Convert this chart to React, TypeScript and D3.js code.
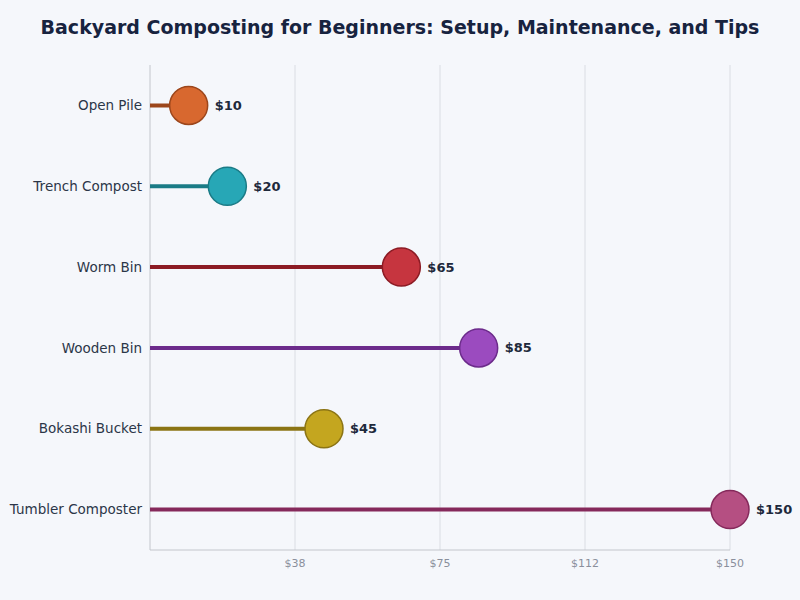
import React from "react";
import * as d3 from "d3";

// Setup cost per composting method (USD)
const methods = [
  "Open Pile",
  "Trench Compost",
  "Worm Bin",
  "Wooden Bin",
  "Bokashi Bucket",
  "Tumbler Composter",
];
const costs = [10, 20, 65, 85, 45, 150];
const fills = ["#d8682f", "#27a7b6", "#c6353f", "#9b4bbf", "#c4a61f", "#b54f82"];
const strokes = ["#9c461b", "#1a7b86", "#8c1b24", "#6c2b8b", "#8b7414", "#85295b"];
const tickValues = [37.5, 75, 112.5, 150];
const tickLabels = ["$38", "$75", "$112", "$150"];

const W = 800;
const H = 600;
const margin = { top: 65, right: 70, bottom: 50, left: 150 };
const font = "DejaVu Sans, Verdana, sans-serif";

const App: React.FC = () => {
  const x = d3
    .scaleLinear()
    .domain([0, 150])
    .range([margin.left, W - margin.right]);
  const y = d3
    .scaleBand<string>()
    .domain(methods)
    .range([margin.top, H - margin.bottom])
    .padding(0);
  const r = 19;

  return (
    <svg
      width={W}
      height={H}
      style={{ position: "absolute", left: 0, top: 0, background: "#f5f7fb" }}
      fontFamily={font}
    >
      <rect width={W} height={H} fill="#f5f7fb" />
      <text
        x={W / 2}
        y={34}
        textAnchor="middle"
        fontSize={19}
        fontWeight="bold"
        fill="#17233f"
      >
        Backyard Composting for Beginners: Setup, Maintenance, and Tips
      </text>

      {/* vertical grid */}
      {tickValues.map((t) => (
        <line
          key={t}
          x1={x(t)}
          x2={x(t)}
          y1={margin.top}
          y2={H - margin.bottom}
          stroke="#dadde3"
          strokeWidth={1}
        />
      ))}

      {/* axes */}
      <line
        x1={margin.left}
        x2={margin.left}
        y1={margin.top}
        y2={H - margin.bottom}
        stroke="#c3c6cc"
      />
      <line
        x1={margin.left}
        x2={x(150)}
        y1={H - margin.bottom}
        y2={H - margin.bottom}
        stroke="#c3c6cc"
      />
      {tickValues.map((t, i) => (
        <text
          key={t}
          x={x(t)}
          y={H - margin.bottom + 17}
          textAnchor="middle"
          fontSize={11}
          fill="#8a8f9c"
        >
          {tickLabels[i]}
        </text>
      ))}

      {methods.map((m, i) => {
        const cy = (y(m) ?? 0) + y.bandwidth() / 2;
        const cx = x(costs[i]);
        return (
          <g key={m}>
            <text
              x={margin.left - 8}
              y={cy}
              dy="0.35em"
              textAnchor="end"
              fontSize={13.5}
              fill="#2b3648"
            >
              {m}
            </text>
            <line
              x1={margin.left}
              x2={cx}
              y1={cy}
              y2={cy}
              stroke={strokes[i]}
              strokeWidth={4}
            />
            <circle
              cx={cx}
              cy={cy}
              r={r}
              fill={fills[i]}
              stroke={strokes[i]}
              strokeWidth={1.5}
            />
            <text
              x={cx + r + 7}
              y={cy}
              dy="0.35em"
              fontSize={13}
              fontWeight="bold"
              fill="#1e293b"
            >
              ${costs[i]}
            </text>
          </g>
        );
      })}
    </svg>
  );
};

export default App;
